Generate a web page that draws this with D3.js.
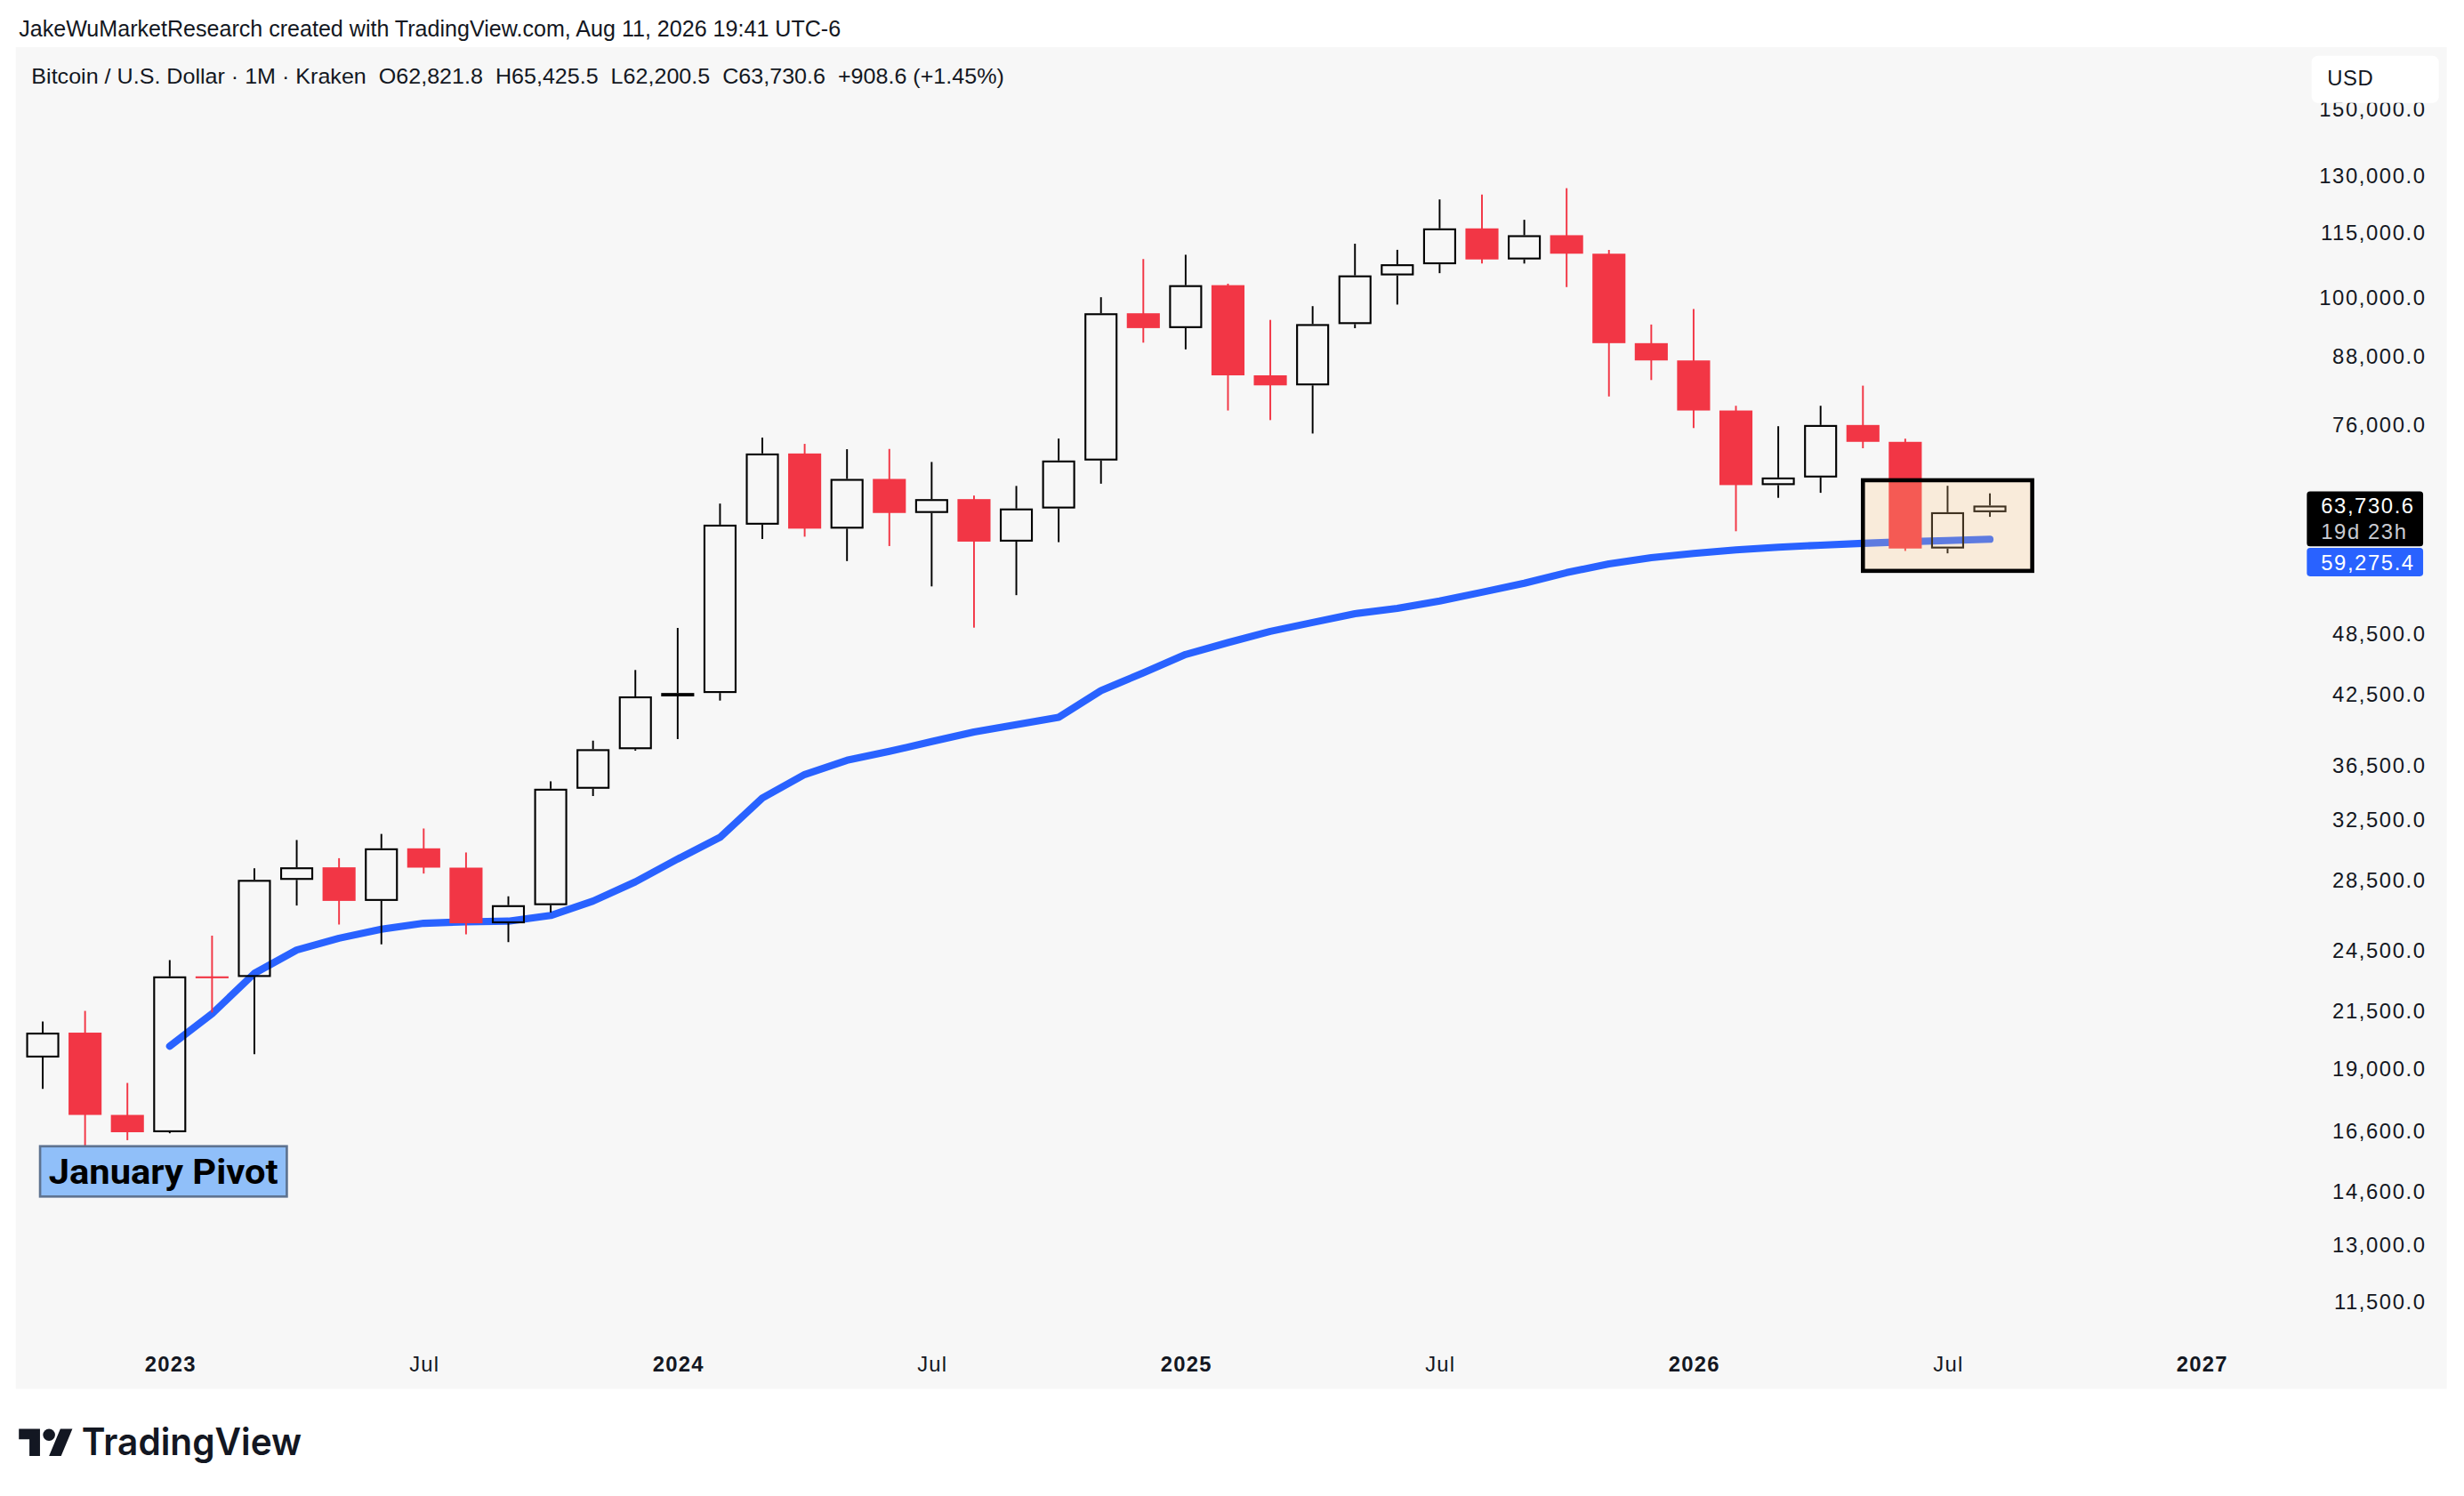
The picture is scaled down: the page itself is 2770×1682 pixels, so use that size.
<!DOCTYPE html>
<html>
<head>
<meta charset="utf-8">
<script src="https://cdn.jsdelivr.net/npm/d3@7"></script>
<style>
  html, body { margin: 0; padding: 0; background: #ffffff; }
  svg { display: block; }
</style>
</head>
<body>
<svg id="chart"></svg>
<script>
// monthly bars, Kraken BTC/USD
var months = [
  "2022-10","2022-11","2022-12",
  "2023-01","2023-02","2023-03","2023-04","2023-05","2023-06","2023-07","2023-08","2023-09","2023-10","2023-11","2023-12",
  "2024-01","2024-02","2024-03","2024-04","2024-05","2024-06","2024-07","2024-08","2024-09","2024-10","2024-11","2024-12",
  "2025-01","2025-02","2025-03","2025-04","2025-05","2025-06","2025-07","2025-08","2025-09","2025-10","2025-11","2025-12",
  "2026-01","2026-02","2026-03","2026-04","2026-05","2026-06","2026-07","2026-08"
];
var opens = [
  19423, 20491, 17165,
  16537, 23130, 23100, 28470, 29250, 27210, 30470, 29230, 25930, 26960, 34640, 37720,
  42260, 42570, 61160, 71290, 60640, 67490, 62720, 64620, 58970, 63330, 70220, 96410,
  93380, 102420, 84350, 82550, 94190, 104600, 107140, 115740, 108250, 114050, 109600, 90400,
  87100, 78200, 66600, 67700, 75800, 73100, 58100, 62821.8
];
var highs = [
  20988, 21473, 18388,
  23955, 25250, 29190, 31020, 29830, 31430, 31800, 30200, 27480, 35200, 38420, 44730,
  48970, 64000, 73780, 72780, 71950, 71990, 70000, 65120, 66480, 73620, 99800, 108350,
  109350, 102750, 95040, 97900, 111980, 110520, 123180, 124460, 117900, 126200, 110500, 94100,
  97300, 79000, 75600, 79000, 82500, 73600, 66500, 65425.5
];
var lows = [
  18155, 15460, 16256,
  16500, 21400, 19560, 26940, 25860, 24780, 28860, 25320, 24900, 26540, 34100, 37600,
  38550, 41880, 59300, 59600, 56550, 58410, 53550, 49000, 52550, 58900, 66800, 90500,
  89200, 78200, 76600, 74420, 93360, 98230, 105100, 107300, 107300, 102000, 80600, 83500,
  75300, 60300, 64800, 65500, 72100, 57800, 57500, 62200.5
];
var closes = [
  20491, 17165, 16537,
  23130, 23100, 28470, 29250, 27210, 30470, 29230, 25930, 26960, 34640, 37720, 42260,
  42570, 61160, 71290, 60640, 67490, 62720, 64620, 58970, 63330, 70220, 96410, 93380,
  102420, 84350, 82550, 94190, 104600, 107140, 115740, 108250, 114050, 109600, 90400, 87100,
  78200, 66600, 67700, 75800, 73100, 58100, 62821.8, 63730.6
];

// moving average, Jan 2023 .. Aug 2026
var maStart = "2023-01";
var maValues = [
  19900, 21340, 23280, 24480, 25110, 25600, 25930, 26010, 26050, 26370, 27200, 28350,
  29780, 31200, 33950, 35720, 36830, 37540, 38340, 39140, 39760, 40400, 42790, 44460,
  46250, 47450, 48610, 49550, 50500, 51080, 51900, 52880, 53920, 55160, 56210, 56960,
  57480, 57930, 58270, 58520, 58760, 58950, 59100, 59275.4
];

var yTicks = [150000, 130000, 115000, 100000, 88000, 76000, 48500, 42500, 36500, 32500, 28500, 24500, 21500, 19000, 16600, 14600, 13000, 11500];
var xTickMonths = ["2023-01","2023-07","2024-01","2024-07","2025-01","2025-07","2026-01","2026-07","2027-01"];
var xTickLabels = ["2023","Jul","2024","Jul","2025","Jul","2026","Jul","2027"];

// highlight box and note
var boxMonths = ["2026-05", "2026-09"];
var boxPrices = [67300, 55370];
var pivotMonth = "2023-01";
var pivotPrice = 15200;
var pivotText = "January Pivot";

var headerText = "JakeWuMarketResearch created with TradingView.com, Aug 11, 2026 19:41 UTC-6";
var symbolText = "Bitcoin / U.S. Dollar \u00b7 1M \u00b7 Kraken";
var changeText = "+908.6 (+1.45%)";
var countdownText = "19d 23h";

var FONT = "'Liberation Sans', Arial, sans-serif";
var INK = "#131722";
var RED = "#f23645";

function idx(m) {
    var p = m.split("-");
    return (+p[0] - 2022) * 12 + (+p[1] - 10);
}

var svg = d3.select("#chart")
    .attr("width", 2770)
    .attr("height", 1682)
    .attr("viewBox", "0 0 1568 952.13");

svg.append("rect").attr("width", 1568).attr("height", 952.13).attr("fill", "#ffffff");

// pane
svg.append("rect")
    .attr("x", 10).attr("y", 30)
    .attr("width", 1547).attr("height", 854)
    .attr("fill", "#f7f7f7");

var x = d3.scaleLinear().domain([idx("2023-01"), idx("2027-01")]).range([108, 1401]);
var y = d3.scaleLog().domain([11500, 130000]).range([828, 111]);

var step = x(1) - x(0);
var bw = step * 0.78;
var fmt = d3.format(",.1f");

//header
svg.append("text")
    .attr("x", 12).attr("y", 23)
    .attr("font-family", FONT).attr("font-size", 14.5)
    .attr("fill", INK)
    .attr("textLength", 523).attr("lengthAdjust", "spacingAndGlyphs")
    .text(headerText);

var n = closes.length - 1;
var legend = symbolText + "\u00a0\u00a0O" + fmt(opens[n]) + "\u00a0\u00a0H" + fmt(highs[n]) +
    "\u00a0\u00a0L" + fmt(lows[n]) + "\u00a0\u00a0C" + fmt(closes[n]) + "\u00a0\u00a0" + changeText;
svg.append("text")
    .attr("x", 20).attr("y", 53)
    .attr("font-family", FONT).attr("font-size", 13.5)
    .attr("fill", INK)
    .attr("textLength", 619).attr("lengthAdjust", "spacingAndGlyphs")
    .text(legend);

// moving average line, under the candles
var maData = maValues.map(function(v, i) { return {i: idx(maStart) + i, v: v}; });
var line = d3.line()
    .x(function(d) { return x(d.i); })
    .y(function(d) { return y(d.v); });

svg.append("path")
    .datum(maData)
    .attr("d", line)
    .attr("fill", "none")
    .attr("stroke", "#2962ff")
    .attr("stroke-width", 4.6)
    .attr("stroke-linecap", "round")
    .attr("stroke-linejoin", "round");

// candles
var candles = months.map(function(m, i) {
    return {i: idx(m), o: opens[i], h: highs[i], l: lows[i], c: closes[i]};
});
var sw = 1.2;

var bars = svg.selectAll(".bar").data(candles).enter().append("g").attr("class", "bar");

bars.each(function(d) {
    var g = d3.select(this);
    var cx = x(d.i);
    if (d.c >= d.o) {
        // hollow up candle
        g.append("line")
            .attr("x1", cx).attr("x2", cx)
            .attr("y1", y(d.h)).attr("y2", y(d.c))
            .attr("stroke", "#000").attr("stroke-width", 1.1);
        g.append("line")
            .attr("x1", cx).attr("x2", cx)
            .attr("y1", y(d.o)).attr("y2", y(d.l))
            .attr("stroke", "#000").attr("stroke-width", 1.1);
        g.append("rect")
            .attr("x", cx - bw / 2 + sw / 2)
            .attr("y", y(d.c) + sw / 2)
            .attr("width", bw - sw)
            .attr("height", Math.max(y(d.o) - y(d.c) - sw, 0.6))
            .attr("fill", "none")
            .attr("stroke", "#000")
            .attr("stroke-width", sw);
    } else {
        g.append("line")
            .attr("x1", cx).attr("x2", cx)
            .attr("y1", y(d.h)).attr("y2", y(d.l))
            .attr("stroke", RED).attr("stroke-width", 1.1);
        g.append("rect")
            .attr("x", cx - bw / 2)
            .attr("y", y(d.o))
            .attr("width", bw)
            .attr("height", Math.max(y(d.c) - y(d.o), 1.2))
            .attr("fill", RED);
    }
});

// highlight box
svg.append("rect")
    .attr("x", x(idx(boxMonths[0])))
    .attr("y", y(boxPrices[0]))
    .attr("width", x(idx(boxMonths[1])) - x(idx(boxMonths[0])))
    .attr("height", y(boxPrices[1]) - y(boxPrices[0]))
    .attr("fill", "rgba(255, 200, 130, 0.25)")
    .attr("stroke", "#000")
    .attr("stroke-width", 2.6);

// January Pivot note
var px = x(idx(pivotMonth)) - 4, py = y(pivotPrice);
svg.append("rect")
    .attr("x", px - 78.5).attr("y", py - 16)
    .attr("width", 157).attr("height", 32)
    .attr("fill", "#90bff9")
    .attr("stroke", "#5e7390")
    .attr("stroke-width", 1.5);
svg.append("text")
    .attr("x", px).attr("y", py)
    .attr("dy", "0.36em")
    .attr("text-anchor", "middle")
    .attr("font-family", "Roboto, 'Liberation Sans', sans-serif")
    .attr("font-weight", 700)
    .attr("font-size", 22)
    .attr("fill", "#000")
    .attr("textLength", 146).attr("lengthAdjust", "spacingAndGlyphs")
    .text(pivotText);

// price axis
var yAxis = d3.axisRight(y)
    .tickValues(yTicks)
    .tickFormat(fmt)
    .tickSize(0)
    .tickPadding(0);

var gy = svg.append("g")
    .attr("transform", "translate(1544,0)")
    .call(yAxis)
    .attr("font-family", FONT)
    .attr("font-size", 13.5);
gy.select(".domain").remove();
gy.selectAll("text")
    .attr("text-anchor", "end")
    .attr("dy", "0.36em")
    .attr("fill", INK)
    .attr("letter-spacing", 0.9);

// currency button, sits over the clipped top tick
svg.append("rect")
    .attr("x", 1471).attr("y", 35.5)
    .attr("width", 81).attr("height", 30)
    .attr("rx", 4)
    .attr("fill", "#ffffff");
svg.append("text")
    .attr("x", 1481).attr("y", 49.3)
    .attr("dy", "0.36em")
    .attr("font-family", FONT).attr("font-size", 13.5)
    .attr("letter-spacing", 0.3)
    .attr("fill", INK)
    .text("USD");

// last price + MA labels
var lastClose = closes[n];
var lastMa = maValues[maValues.length - 1];
var lblX = 1468, lblW = 74;
var top1 = y(lastClose) - 9;
svg.append("rect")
    .attr("x", lblX).attr("y", top1)
    .attr("width", lblW).attr("height", 35)
    .attr("rx", 2)
    .attr("fill", "#000");
svg.append("text")
    .attr("x", lblX + 9).attr("y", top1 + 9)
    .attr("dy", "0.36em")
    .attr("font-family", FONT).attr("font-size", 13.5)
    .attr("letter-spacing", 0.9)
    .attr("fill", "#ffffff")
    .text(fmt(lastClose));
svg.append("text")
    .attr("x", lblX + 9).attr("y", top1 + 25.5)
    .attr("dy", "0.36em")
    .attr("font-family", FONT).attr("font-size", 13.5)
    .attr("letter-spacing", 0.9)
    .attr("fill", "#c9cbd1")
    .text(countdownText);

var top2 = Math.max(y(lastMa) - 9, top1 + 36);
svg.append("rect")
    .attr("x", lblX).attr("y", top2)
    .attr("width", lblW).attr("height", 18)
    .attr("rx", 2)
    .attr("fill", "#2962ff");
svg.append("text")
    .attr("x", lblX + 9).attr("y", top2 + 9)
    .attr("dy", "0.36em")
    .attr("font-family", FONT).attr("font-size", 13.5)
    .attr("letter-spacing", 0.9)
    .attr("fill", "#ffffff")
    .text(fmt(lastMa));

// time axis
var xAxis = d3.axisBottom(x)
    .tickValues(xTickMonths.map(idx))
    .tickFormat(function(d, i) { return xTickLabels[i]; })
    .tickSize(0)
    .tickPadding(0);

var gx = svg.append("g")
    .attr("transform", "translate(0,868)")
    .call(xAxis)
    .attr("font-family", FONT)
    .attr("font-size", 13.5);
gx.select(".domain").remove();
gx.selectAll("text")
    .attr("dy", "0.36em")
    .attr("fill", INK)
    .attr("letter-spacing", 0.7)
    .attr("font-weight", function(d, i) { return xTickLabels[i] == "Jul" ? 400 : 700; });

// TradingView mark
var logo = svg.append("g").attr("transform", "translate(12,905.5) scale(0.96)");
logo.append("path")
    .attr("d", "M14 22H7V11H0V4h14v18zM28 22h-8l7.5-18h8L28 22z")
    .attr("fill", INK);
logo.append("circle").attr("cx", 20).attr("cy", 8).attr("r", 4).attr("fill", INK);
svg.append("text")
    .attr("x", 52).attr("y", 926)
    .attr("font-family", "Inter, 'Liberation Sans', sans-serif")
    .attr("font-weight", 600)
    .attr("font-size", 24)
    .attr("fill", INK)
    .attr("textLength", 140).attr("lengthAdjust", "spacingAndGlyphs")
    .text("TradingView");
</script>
</body>
</html>
